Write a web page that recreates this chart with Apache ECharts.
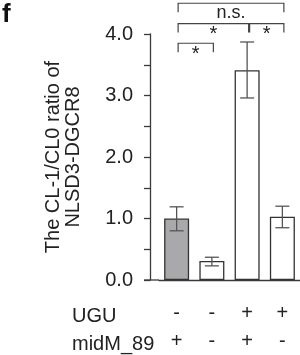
<!DOCTYPE html>
<html><head><meta charset="utf-8">
<script src="https://cdn.jsdelivr.net/npm/echarts@6/dist/echarts.min.js"></script>
<style>html,body{margin:0;padding:0;background:#fff}#c{width:300px;height:355px}</style>
</head><body><div id="c"></div>
<script>
const categories = ['s1', 's2', 's3', 's4'];
const uguRow = ['-', '-', '+', '+'];
const midRow = ['+', '-', '+', '-'];
const rowNames = ['UGU', 'midM_89'];
const means = [1.00, 0.31, 3.41, 1.03];
const errLow = [0.80, 0.23, 2.96, 0.85];
const errHigh = [1.19, 0.37, 3.87, 1.20];
const barFills = ['#a9a9ab', '#ffffff', '#ffffff', '#ffffff'];
// [fromIndex, toIndex, level, label]
const brackets = [[0, 1, 3.85, '*'], [0, 2, 4.17, '*'], [2, 3, 4.17, '*'], [0, 3, 4.50, 'n.s.']];
const yTitle = ['The CL-1/CL0 ratio of', 'NLSD3-DGCR8'];
const panelLetter = 'f';

const FONT = "'Liberation Sans', Arial, sans-serif";
const INK = '#222';
const LINE = '#3a3a3a';

const chart = echarts.init(document.getElementById('c'), null, {renderer: 'canvas'});
const baseGraphic = [
  {type: 'text', left: 2, top: 2, style: {text: panelLetter, font: 'bold 26px ' + FONT, fill: '#111'}},
  {type: 'text', left: 72, top: 302, style: {text: rowNames.join('\n'), font: '20px ' + FONT, lineHeight: 28, fill: INK}}
];
const option = {
  animation: false,
  backgroundColor: '#fff',
  grid: {left: 159, right: 0, top: 34, bottom: 72, containLabel: false},
  xAxis: {
    type: 'category', data: categories,
    axisLine: {lineStyle: {color: LINE, width: 1.3}},
    axisTick: {alignWithLabel: true, length: 7, lineStyle: {color: LINE, width: 1.3}},
    axisLabel: {
      interval: 0, margin: 19, fontFamily: FONT, fontSize: 20, lineHeight: 28, color: INK,
      formatter: (v, i) => uguRow[i] + '\n' + midRow[i]
    }
  },
  yAxis: {
    type: 'value', min: 0, max: 4, interval: 0.5, offset: 9,
    name: yTitle.join('\n'), nameLocation: 'middle', nameGap: 67, nameRotate: 90,
    nameTextStyle: {fontFamily: FONT, fontSize: 20, lineHeight: 20, color: INK},
    axisLine: {show: true, lineStyle: {color: LINE, width: 1.3}},
    axisTick: {show: true, length: 6, lineStyle: {color: LINE, width: 1.3}},
    splitLine: {show: false},
    axisLabel: {
      margin: 17, fontFamily: FONT, fontSize: 20, color: INK,
      formatter: v => (Math.abs(v - Math.round(v)) < 1e-9 ? v.toFixed(1) : '')
    }
  },
  series: [
    {
      type: 'bar', barWidth: 25,
      data: means.map((v, i) => ({value: v, itemStyle: {color: barFills[i]}})),
      itemStyle: {borderColor: '#333', borderWidth: 1.3}
    },
    {
      type: 'custom', clip: false, z: 5,
      data: means.map((v, i) => [i, errLow[i], errHigh[i]]),
      renderItem: (params, api) => {
        const lo = api.coord([api.value(0), api.value(1)]);
        const hi = api.coord([api.value(0), api.value(2)]);
        const hw = 7;
        const st = {stroke: '#555', lineWidth: 1.3};
        return {type: 'group', children: [
          {type: 'line', shape: {x1: lo[0], y1: lo[1], x2: hi[0], y2: hi[1]}, style: st},
          {type: 'line', shape: {x1: lo[0] - hw, y1: lo[1], x2: lo[0] + hw, y2: lo[1]}, style: st},
          {type: 'line', shape: {x1: hi[0] - hw, y1: hi[1], x2: hi[0] + hw, y2: hi[1]}, style: st}
        ]};
      }
    },
    {
      type: 'custom', clip: false, z: 5,
      data: brackets.map(b => [b[0], b[1], b[2]]),
      renderItem: (params, api) => {
        const b = brackets[params.dataIndex];
        const a = api.coord([b[0], b[2]]);
        const c = api.coord([b[1], b[2]]);
        const shift = 1.5, drop = 9;
        const x1 = a[0] + shift + (params.dataIndex === 2 ? 1 : 0), x2 = c[0] + shift, y = a[1];
        const st = {stroke: '#444', lineWidth: 1.2, fill: null};
        const isStar = b[3] === '*';
        return {type: 'group', children: [
          {type: 'polyline', shape: {points: [[x1, y + drop], [x1, y], [x2, y], [x2, y + drop]]}, style: st},
          {type: 'text', style: {
            text: b[3], x: (x1 + x2) / 2, y: y + 1,
            align: 'center', verticalAlign: 'top',
            font: (isStar ? '20px ' : '18px ') + FONT, fill: INK
          }}
        ]};
      }
    }
  ],
  graphic: baseGraphic
};
chart.setOption(option);
// extend the baseline leftward to the y-axis tick stubs
const p0 = chart.convertToPixel({gridIndex: 0}, [0, 0]);
const p1 = chart.convertToPixel({gridIndex: 0}, [1, 0]);
const band = p1[0] - p0[0];
const yAxisX = p0[0] - 0.5 * band - 9;
chart.setOption({graphic: baseGraphic.concat([
  {type: 'line', shape: {x1: yAxisX - 6, y1: p0[1], x2: p0[0] - band / 2, y2: p0[1]}, style: {stroke: LINE, lineWidth: 1.3}}
])});
</script></body></html>
